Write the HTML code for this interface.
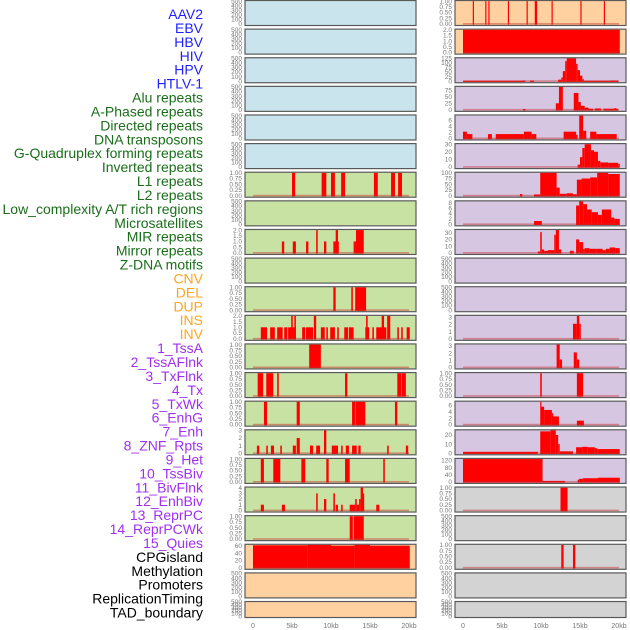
<!DOCTYPE html>
<html><head><meta charset="utf-8"><style>
html,body{margin:0;padding:0;background:#fff;width:630px;height:630px;overflow:hidden}
svg{display:block}
</style></head><body>
<svg id="chart" width="630" height="630" xmlns="http://www.w3.org/2000/svg"></svg>
<script>
const trackLabels = ["AAV2","EBV","HBV","HIV","HPV","HTLV-1","Alu repeats","A-Phased repeats","Directed repeats","DNA transposons","G-Quadruplex forming repeats","Inverted repeats","L1 repeats","L2 repeats","Low_complexity A/T rich regions","Microsatellites","MIR repeats","Mirror repeats","Z-DNA motifs","CNV","DEL","DUP","INS","INV","1_TssA","2_TssAFlnk","3_TxFlnk","4_Tx","5_TxWk","6_EnhG","7_Enh","8_ZNF_Rpts","9_Het","10_TssBiv","11_BivFlnk","12_EnhBiv","13_ReprPC","14_ReprPCWk","15_Quies","CPGisland","Methylation","Promoters","ReplicationTiming","TAD_boundary"];
const labelGroups = [6,13,5,15,5];
const groupColors = ["#1f1fff","#1a6e1a","#ffa520","#a030f0","#000000"];
const xTickValues = [0,5,10,15,20];
const xTickLabels = ["0","5kb","10kb","15kb","20kb"];

const leftBg = ["b","b","b","b","b","b","g","g","g","g","g","g","g","g","g","g","g","g","g","o","o","o"];
const rightBg = ["o","o","p","p","p","p","p","p","p","p","p","p","p","p","p","p","p","g2","g2","g2","g2","g2"];
const leftMax = [500,500,500,500,500,500,1,500,2,500,1,2,1,1,1,3,1,4,1,63,500,500];
const rightMax = [1,2,125,88,7.5,30,100,8.5,34,500,500,3.2,3.2,1,7,25,128,1,500,1,500,500];
const leftTicks = [[0,100,200,300,400,500],[0,100,200,300,400,500],[0,100,200,300,400,500],[0,100,200,300,400,500],[0,100,200,300,400,500],[0,100,200,300,400,500],[0,0.25,0.5,0.75,1],[0,100,200,300,400,500],[0,0.5,1,1.5,2],[0,100,200,300,400,500],[0,0.25,0.5,0.75,1],[0,0.5,1,1.5,2],[0,0.25,0.5,0.75,1],[0,0.25,0.5,0.75,1],[0,0.25,0.5,0.75,1],[0,1,2,3],[0,0.25,0.5,0.75,1],[0,1,2,3,4],[0,0.25,0.5,0.75,1],[0,20,40,60],[0,100,200,300,400,500],[0,100,200,300,400,500]];
const rightTicks = [[0,0.25,0.5,0.75,1],[0,0.5,1,1.5,2],[0,25,50,75,100,125],[0,25,50,75],[0,2,4,6],[0,10,20,30],[0,25,50,75,100],[0,2,4,6,8],[0,10,20,30],[0,100,200,300,400,500],[0,100,200,300,400,500],[0,1,2,3],[0,1,2,3],[0,0.25,0.5,0.75,1],[0,2,4,6],[0,10,20],[0,40,80,120],[0,0.25,0.5,0.75,1],[0,100,200,300,400,500],[0,0.25,0.5,0.75,1],[0,100,200,300,400,500],[0,100,200,300,400,500]];

// segments: [startKb, endKb, value]
const leftSeries = [[],[],[],[],[],[],
[[5.0,5.4,1],[8.8,9.4,1],[10.0,10.5,1],[11.3,11.8,1],[15.5,16.0,1],[17.7,18.2,1],[18.6,19.1,1]],
[],
[[3.7,4.0,1],[5.1,5.5,1],[6.8,7.1,1],[8.1,8.3,2],[9.1,9.4,1],[10.3,11.0,1],[10.6,10.9,2],[12.9,13.2,1],[13.2,14.2,2]],
[],
[[10.3,10.6,1],[12.6,12.8,1],[13.1,14.5,1]],
[[1.0,1.8,1],[2.2,2.8,1],[3.1,3.8,1],[4.0,4.4,1],[4.5,5.5,1],[4.9,5.1,2],[5.3,5.5,2],[6.3,6.7,1],[6.8,7.7,1],[7.8,8.1,2],[8.7,9.2,1],[9.4,9.6,1],[9.9,10.5,1],[10.8,11.0,1],[11.7,12.2,1],[12.3,12.9,1],[14.4,14.9,1],[14.5,14.7,2],[15.3,15.5,1],[15.8,17.1,1],[16.5,16.8,2],[17.2,17.6,2],[18.5,18.7,1],[19.0,19.2,1],[19.7,20.1,1]],
[[7.2,8.7,1]],
[[0.6,1.3,1],[1.7,2.6,1],[3.1,3.3,1],[11.8,12.1,1],[18.5,19.0,1],[19.05,19.6,1]],
[[1.4,1.8,1],[5.6,6.0,1],[12.7,13.1,1],[13.15,14.4,1],[18.2,18.5,1]],
[[0.5,0.8,1],[1.7,1.9,1],[2.3,2.7,1],[3.5,3.7,1],[5.1,5.5,1],[5.6,6.0,2],[7.3,7.7,1],[8.1,8.6,1],[9.1,9.4,3],[10.1,10.9,1],[11.3,11.5,1],[11.9,12.3,1],[12.7,13.3,1],[13.5,13.8,1],[17.2,17.4,1],[19.6,19.9,1]],
[[1.0,1.4,1],[2.6,3.5,1],[6.2,6.7,1],[9.4,9.7,1],[11.8,12.4,1],[16.7,16.9,1]],
[[1.0,1.4,1],[3.7,4.1,1],[8.1,8.3,3],[9.1,9.4,2],[10.3,10.5,3],[10.6,10.9,1],[11.3,11.5,1],[12.4,13.1,1],[13.1,13.3,2],[13.3,13.6,1],[13.6,13.8,2],[13.8,14.1,4],[14.1,14.2,3],[15.8,16.2,1]],
[[12.4,12.8,1],[12.9,14.2,1]],
[[0,7,62],[7,10,63],[10,13,61],[13,15,63],[15,20.1,61]],
[],[]];

const rightSeries = [
[[1.25,1.4,1],[2.85,3.0,1],[3.25,3.4,1],[5.75,5.9,1],[8.15,8.3,1],[9.2,9.5,1],[11.35,11.5,1],[15.05,15.2,1],[18.05,18.2,1]],
[[0,20.1,2]],
[[0,7.5,2],[7.5,8.0,3],[8.6,9.1,3],[12.2,12.6,8],[12.6,12.8,20],[12.8,13.1,55],[13.1,13.3,110],[13.3,14.5,125],[14.5,14.7,95],[14.7,15.0,60],[15.0,15.3,30],[15.3,15.5,10],[15.5,18.9,2],[18.9,19.9,3]],
[[7.7,8.0,3],[11.9,12.3,25],[12.3,12.8,88],[14.2,14.8,65],[14.8,15.1,30],[15.1,15.6,15],[15.6,16.1,8],[16.1,16.7,4],[16.9,17.7,5],[18.0,19.4,4],[19.4,19.7,6],[19.7,19.9,3]],
[[0,0.5,2.2],[0.5,1.2,1.4],[3.2,3.7,1.4],[4.2,7.8,1.4],[7.8,8.8,2.2],[8.8,9.4,1.4],[12.9,14.5,2.2],[14.5,14.7,1.2],[14.9,15.4,7.5],[15.4,15.8,2.5],[16.3,17.1,2.2],[17.1,19.7,1.4]],
[[14.7,15.0,3],[15.0,15.3,13],[15.3,15.6,25],[15.6,16.4,30],[16.4,16.8,22],[16.8,17.3,20],[17.3,17.6,8],[17.6,18.6,6],[18.6,19.9,5.5],[19.9,20.1,4]],
[[7.3,7.6,7],[9.1,9.9,5],[9.9,12.0,100],[12.0,12.4,35],[12.4,13.3,8],[13.3,14.1,10],[14.1,14.6,6],[14.6,15.2,70],[15.2,16.3,75],[16.3,17.2,80],[17.2,18.6,100],[18.6,20.1,95]],
[[9.1,10.1,1.2],[14.5,14.9,7],[14.9,15.4,8.5],[15.4,15.9,7.5],[15.9,16.5,5.5],[16.5,17.3,4.5],[17.3,17.8,3.5],[17.8,19.0,5.5],[19.0,19.4,2.5],[19.4,20.1,2]],
[[9.6,9.9,2],[9.9,10.1,31],[10.1,10.4,5],[10.4,10.9,3],[10.9,11.7,4],[11.7,11.9,27],[11.9,12.3,34],[12.3,12.6,5],[13.7,14.2,3],[14.5,14.9,20],[14.9,15.4,16],[15.4,15.6,6],[15.6,16.2,7],[16.2,17.1,6],[17.1,17.9,6],[17.9,18.3,4],[18.3,18.8,6],[18.8,19.5,8],[19.5,20.1,7]],
[],[],
[[14.1,14.6,2.1],[14.6,14.9,3.2],[14.9,15.1,2.1]],
[[12.0,12.4,3.2],[12.4,12.7,1.1],[14.2,14.6,2.1],[14.6,14.9,1.1]],
[[9.9,10.1,1],[14.6,15.4,1]],
[[9.9,10.0,7],[10.0,10.4,5.5],[10.4,11.4,4.5],[11.4,11.5,3.5],[11.5,12.3,2.5],[14.6,15.5,1.2]],
[[0,9.6,1.5],[9.9,11.2,24],[11.2,11.9,25],[11.9,12.2,20],[12.2,12.4,10],[12.4,14.1,2],[14.5,15.3,6.5],[15.3,16.0,7],[16.0,16.9,6.5],[16.9,17.2,5.5],[17.2,20.1,4.5]],
[[0,10.2,128],[10.2,13.1,5],[14.7,14.9,12],[14.9,15.4,17],[15.4,17.3,20],[17.3,20.1,23]],
[[12.5,13.4,1]],
[],
[[12.6,12.9,1],[14.1,14.4,1]],
[],[]];

const NS="http://www.w3.org/2000/svg";
const svg=document.getElementById('chart');
const bgColors={b:"#c9e4ec",g:"#c8e2a4",o:"#ffd1a0",p:"#d6c6e2",g2:"#d3d3d3"};
function el(t,a){const e=document.createElementNS(NS,t);for(const k in a)e.setAttribute(k,a[k]);svg.appendChild(e);return e;}
const ROW_STEP=28.62, ROW_H=25;
function rowTop(i){return i*ROW_STEP;}
function rowH(i){return i===21?16:ROW_H;}
function xScale(panelX,kb){return panelX+8+kb*7.8;}
function yScale(top,h,M,v){return top+h-(v+0.05*M)/(1.1*M)*h;}
function fmt(t,ticks){const mx=ticks[ticks.length-1];const step=ticks[1]-ticks[0];
  if(mx===1&&step===0.25)return t.toFixed(2);
  if(step===0.5)return t.toFixed(1);return String(t);}

// labels
let li=0;
labelGroups.forEach((n,g)=>{for(let k=0;k<n;k++){
  const t=el('text',{x:203,y:(19+li*13.92).toFixed(1),'text-anchor':'end','font-family':'Liberation Sans, sans-serif','font-size':'14',fill:groupColors[g]});
  t.textContent=trackLabels[li];
  
  
  li++;}});

function drawPanel(px,i,bg,M,ticks,series,side){
  const top=rowTop(i),h=rowH(i);
  const r=el('rect',{x:px,y:top+0.5,width:171,height:h,fill:bgColors[bg],stroke:'#5a5a5a','stroke-width':1.2});
  
  
  series.forEach(s=>{
    const x0=xScale(px,s[0]),x1=xScale(px,s[1]);
    const y=yScale(top,h,M,s[2]),y0=yScale(top,h,M,0);
    const b=el('rect',{x:x0.toFixed(2),y:y.toFixed(2),width:Math.max(1.2,x1-x0).toFixed(2),height:Math.max(0,y0-y+0.8).toFixed(2),fill:'#ff0000'});
    
    
  });
  if(series.length){
    const y0=yScale(top,h,M,0);
    const bl=el('rect',{x:xScale(px,0),y:(y0-0.8).toFixed(2),width:(xScale(px,20)-xScale(px,0)).toFixed(2),height:1.6,fill:'rgba(200,40,40,0.45)'});
    
    
  }
  ticks.forEach(t=>{
    const y=yScale(top,h,M,t);
    const tx=el('text',{x:px-3,y:(y+2.2).toFixed(2),'text-anchor':'end','font-family':'Liberation Sans, sans-serif','font-size':'6.5',fill:'#777'});
    tx.textContent=fmt(t,ticks);
    
    
  });
}
for(let i=0;i<22;i++){
  drawPanel(245,i,leftBg[i],leftMax[i],leftTicks[i],leftSeries[i],'left');
  drawPanel(455,i,rightBg[i],rightMax[i],rightTicks[i],rightSeries[i],'right');
}
[245,455].forEach(px=>{
  xTickValues.forEach((v,k)=>{
    const t=el('text',{x:xScale(px,v).toFixed(1),y:628,'text-anchor':'middle','font-family':'Liberation Sans, sans-serif','font-size':'7',fill:'#777'});
    t.textContent=xTickLabels[k];
    
    
  });
});
</script>
</body></html>
